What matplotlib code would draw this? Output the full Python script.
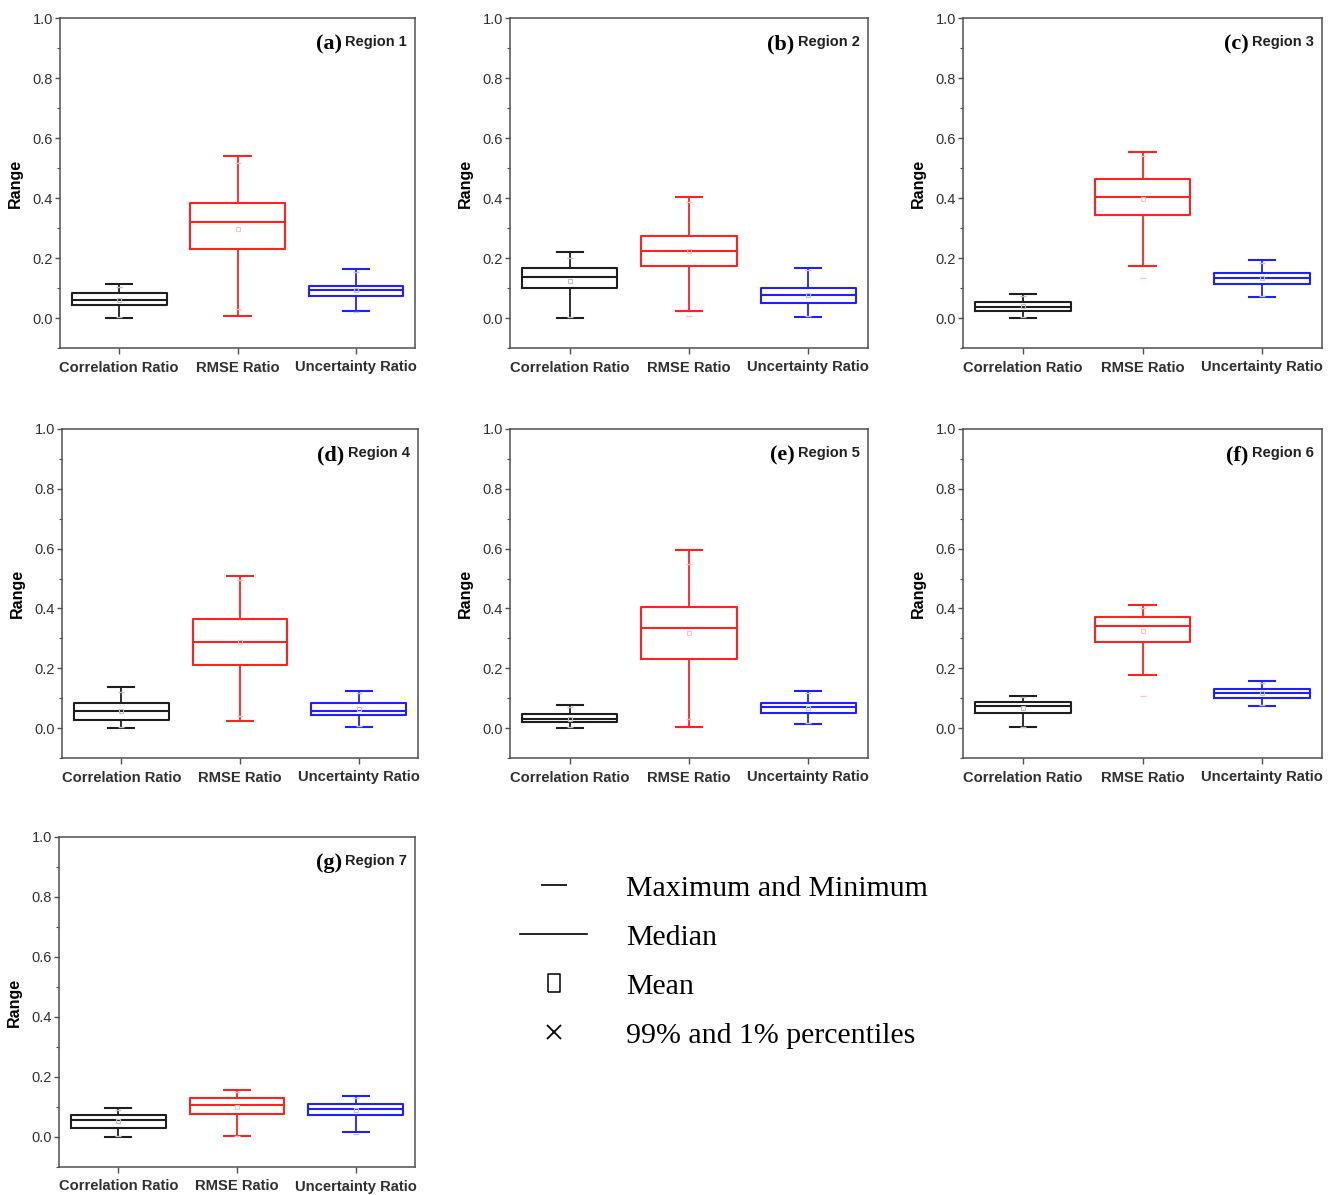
import matplotlib
matplotlib.use("Agg")
import matplotlib.pyplot as plt
from matplotlib import font_manager
from matplotlib.ticker import MultipleLocator
from matplotlib.lines import Line2D

# ---------------- data ----------------
categories = ["Correlation Ratio", "RMSE Ratio", "Uncertainty Ratio"]
panel_letters = ["(a)", "(b)", "(c)", "(d)", "(e)", "(f)", "(g)"]
region_names = ["Region 1", "Region 2", "Region 3", "Region 4",
                "Region 5", "Region 6", "Region 7"]

whishi = [[0.113, 0.541, 0.164],
          [0.220, 0.402, 0.168],
          [0.080, 0.552, 0.192],
          [0.139, 0.508, 0.123],
          [0.077, 0.594, 0.125],
          [0.108, 0.413, 0.156],
          [0.097, 0.156, 0.136]]
q3 = [[0.083, 0.383, 0.108],
      [0.166, 0.273, 0.099],
      [0.053, 0.463, 0.151],
      [0.085, 0.364, 0.084],
      [0.046, 0.404, 0.083],
      [0.088, 0.373, 0.131],
      [0.075, 0.131, 0.111]]
med = [[0.061, 0.321, 0.092],
       [0.136, 0.222, 0.076],
       [0.038, 0.404, 0.133],
       [0.058, 0.287, 0.058],
       [0.030, 0.334, 0.072],
       [0.075, 0.340, 0.116],
       [0.056, 0.106, 0.095]]
q1 = [[0.044, 0.231, 0.075],
      [0.099, 0.173, 0.051],
      [0.025, 0.343, 0.114],
      [0.028, 0.211, 0.044],
      [0.019, 0.231, 0.049],
      [0.050, 0.287, 0.101],
      [0.031, 0.076, 0.072]]
whislo = [[0.000, 0.008, 0.025],
          [0.000, 0.022, 0.004],
          [0.000, 0.173, 0.069],
          [0.000, 0.025, 0.004],
          [0.000, 0.002, 0.013],
          [0.002, 0.179, 0.073],
          [0.000, 0.002, 0.017]]
means = [[0.060, 0.297, 0.092],
         [0.125, 0.222, 0.078],
         [0.040, 0.397, 0.133],
         [0.058, 0.287, 0.064],
         [0.030, 0.317, 0.066],
         [0.066, 0.326, 0.116],
         [0.055, 0.100, 0.090]]
p99 = [[0.105, 0.516, 0.155],
       [0.200, 0.388, 0.160],
       [0.075, 0.540, 0.185],
       [0.120, 0.495, 0.118],
       [0.070, 0.550, 0.118],
       [0.105, 0.400, 0.150],
       [0.090, 0.150, 0.130]]
p01 = [[0.002, 0.030, 0.019],
       [0.002, 0.008, 0.008],
       [0.002, 0.134, 0.072],
       [0.002, 0.040, 0.008],
       [0.002, 0.030, 0.016],
       [0.005, 0.108, 0.076],
       [0.002, 0.005, 0.011]]

box_colors = ["#1e1e1e", "#ff2020", "#2020ff"]
mean_colors = ["#c0c0c0", "#ffc0c0", "#c0c0ff"]

legend_labels = ["Maximum and Minimum", "Median", "Mean", "99% and 1% percentiles"]

# ---------------- fonts ----------------
names = {f.name for f in font_manager.fontManager.ttflist}
sans = "Liberation Sans" if "Liberation Sans" in names else "DejaVu Sans"
serif = "Liberation Serif" if "Liberation Serif" in names else "DejaVu Serif"

W, H = 1335, 1195
fig = plt.figure(figsize=(W / 100, H / 100), dpi=100)

# pixel boxes: (left, right, top, bottom)
panel_px = [(60, 415, 18, 348), (510, 868, 18, 348), (963, 1322, 18, 348),
            (62, 418, 429, 758), (510, 868, 429, 758), (963, 1322, 429, 758),
            (59, 415, 837, 1167)]

axis_gray = "#505050"
text_gray = "#303030"

for k, (l, r, t, b) in enumerate(panel_px):
    ax = fig.add_axes([l / W, 1 - b / H, (r - l) / W, (b - t) / H])
    stats = []
    for j, cat in enumerate(categories):
        stats.append(dict(label=cat, med=med[k][j], q1=q1[k][j], q3=q3[k][j],
                          whislo=whislo[k][j], whishi=whishi[k][j],
                          mean=means[k][j], fliers=[p01[k][j], p99[k][j]]))
    art = ax.bxp(stats, positions=[1, 2, 3], widths=0.8, capwidths=0.22,
                 showmeans=True, showfliers=True, patch_artist=False)
    for j in range(3):
        c = box_colors[j]
        art["boxes"][j].set(color=c, linewidth=1.5)
        art["medians"][j].set(color=c, linewidth=1.5)
        for w in art["whiskers"][2 * j:2 * j + 2]:
            w.set(color=c, linewidth=1.3)
        for cp in art["caps"][2 * j:2 * j + 2]:
            cp.set(color=c, linewidth=1.5)
        art["means"][j].set(marker="s", markersize=3.5, markerfacecolor="none",
                            markeredgecolor=mean_colors[j], markeredgewidth=0.8)
        art["fliers"][j].set(marker="_", markersize=4, markeredgecolor=mean_colors[j],
                             markeredgewidth=1.0)

    ax.set_xlim(0.5, 3.5)
    ax.set_ylim(-0.1, 1.0)
    ax.yaxis.set_minor_locator(MultipleLocator(0.1))
    ax.set_yticks([0.0, 0.2, 0.4, 0.6, 0.8, 1.0])
    ax.set_yticklabels(["0.0", "0.2", "0.4", "0.6", "0.8", "1.0"],
                       fontfamily=sans, fontsize=10.5, color=text_gray)
    ax.set_xticks([1, 2, 3])
    ax.set_xticklabels(categories, fontfamily=sans, fontsize=10.6,
                       fontweight="bold", color=text_gray)
    ax.tick_params(axis="y", which="major", direction="out", length=3.5, width=1.0,
                   color=axis_gray, pad=1.5)
    ax.tick_params(axis="y", which="minor", direction="out", length=2.2, width=0.8,
                   color=axis_gray)
    ax.tick_params(axis="x", which="both", direction="out", length=4, width=1.0,
                   color=axis_gray, pad=5)
    ax.tick_params(top=False, right=False)
    for sp in ax.spines.values():
        sp.set_color(axis_gray)
        sp.set_linewidth(1.1)
    ax.set_ylabel("Range", fontfamily=sans, fontweight="bold",
                  fontsize=11.5, color="black")
    ax.yaxis.set_label_coords(-37 / (r - l), 0.5)

    reg = ax.text(1 - 8 / (r - l), 1 - 28 / (b - t), region_names[k],
                  transform=ax.transAxes, ha="right", va="baseline",
                  fontfamily=sans, fontweight="bold", fontsize=10.5, color="#202020")
    ax.annotate(panel_letters[k], xy=(0, 0), xycoords=reg, xytext=(-2.5, 0),
                textcoords="offset points", ha="right", va="baseline",
                fontfamily=serif, fontweight="bold", fontsize=16, color="black")

# ---------------- legend ----------------
rect_marker = [(-0.7, -1), (0.7, -1), (0.7, 1), (-0.7, 1), (-0.7, -1)]
handles = [
    Line2D([], [], linestyle="none", marker="_", markersize=19, markeredgewidth=1.2,
           color="black"),
    Line2D([], [], linestyle="-", linewidth=1.2, color="black"),
    Line2D([], [], linestyle="none", marker=rect_marker, markersize=13,
           markerfacecolor="none", markeredgecolor="black", markeredgewidth=1.1),
    Line2D([], [], linestyle="none", marker="x", markersize=10, markeredgewidth=1.3,
           color="black"),
]
leg = fig.legend(handles, legend_labels, loc="upper left",
                 bbox_to_anchor=(520 / W, 1 - 875 / H), frameon=False,
                 prop={"family": serif, "size": 21.5},
                 handlelength=2.25, handletextpad=1.3, labelspacing=0.74,
                 borderpad=0, borderaxespad=0, numpoints=1)

fig.savefig("out.png", dpi=100, facecolor="white")
